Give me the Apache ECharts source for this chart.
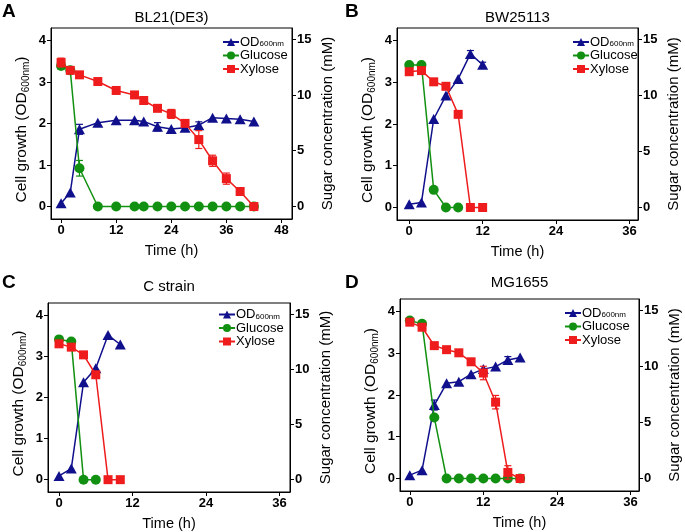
<!DOCTYPE html>
<html><head><meta charset="utf-8">
<script src="https://cdn.jsdelivr.net/npm/echarts@6/dist/echarts.min.js"></script>
<style>html,body{margin:0;padding:0;background:#fff}#c{width:685px;height:532px}</style>
</head><body><div id="c"></div>
<script>
// ---- Data ----
const timeA = [0,2,4,8,12,16,18,21,24,27,30,33,36,39,42];
const odA   = [0.08,0.34,1.86,2.02,2.08,2.08,2.05,1.92,1.87,1.90,1.96,2.14,2.12,2.10,2.05];
const gluA  = [12.6,12.2,3.43,0,0,0,0,0,0,0,0,0,0,0,0];
const xylA  = [12.9,12.2,11.8,11.2,10.4,10.0,9.5,8.8,8.3,7.45,6.0,4.1,2.5,1.35,0];
const odErrA  = [0,0,0.12,0,0,0,0,0.1,0,0,0.08,0,0,0,0];
const gluErrA = [0.3,0,0.7,0,0,0,0,0,0,0,0,0,0,0,0];
const xylErrA = [0.4,0,0,0,0,0,0,0,0.4,0,0.8,0.5,0.5,0,0];

const timeB = [0,2,4,6,8,10,12];
const odB   = [0.08,0.12,2.12,2.68,3.08,3.68,3.42];
const gluB  = [12.7,12.7,1.57,0,0];
const xylB  = [12.1,12.2,11.2,10.8,8.3,0,0];
const odErrB  = [0,0,0,0,0,0.08,0.06];
const gluErrB = [0,0,0,0,0];
const xylErrB = [0,0,0,0,0,0,0];

const timeC = [0,2,4,6,8,10];
const odC   = [0.09,0.27,2.37,2.71,3.52,3.29];
const gluC  = [12.7,12.5,0,0];
const xylC  = [12.3,12.0,11.3,9.5,0,0];
const odErrC  = [0,0,0,0,0,0];
const gluErrC = [0,0,0,0];
const xylErrC = [0,0,0,0,0,0];

const timeD = [0,2,4,6,8,10,12,14,16,18];
const odD   = [0.08,0.2,1.76,2.28,2.32,2.5,2.62,2.68,2.84,2.9];
const gluD  = [14.08,13.78,5.43,0,0,0,0,0,0,0];
const xylD  = [13.93,13.48,11.84,11.48,11.2,10.4,9.4,6.8,0.54,0];
const odErrD  = [0,0,0.12,0,0,0,0,0,0.08,0];
const gluErrD = [0,0,0,0,0,0,0,0,0,0];
const xylErrD = [0,0,0,0,0,0,0.6,0.6,0.6,0];

const xTicks = [0,12,24,36,48];
const xTicksShort = [0,12,24,36];
const yLeftTicks = [0,1,2,3,4];
const yRightTicks = [0,5,10,15];

const panelLetters = ['A','B','C','D'];
const panelTitles = ['BL21(DE3)','BW25113','C strain','MG1655'];

// ---- Layout ----
const FONT = 'Liberation Sans, Arial, sans-serif';
const BLUE = '#10108c', GREEN = '#119011', RED = '#ee1c1c';
const layout = [
  {left:51, top:28, w:241, h:191, xmin:-2.2, xmax:50.3, ticks:xTicks, lg:[222,35.5], letter:[2,2], tt:10},
  {left:397, top:28, w:241, h:192, xmin:-2.0, xmax:37.4, ticks:xTicksShort, lg:[572,35.5], letter:[345,2], tt:10},
  {left:48, top:303, w:242, h:191, xmin:-1.8, xmax:37.7, ticks:xTicksShort, lg:[218,308], letter:[2,273], tt:279},
  {left:400, top:299, w:239, h:192, xmin:-1.6, xmax:37.4, ticks:xTicksShort, lg:[564,306.5], letter:[345,273], tt:275}
];
const panelData = [
  {t:timeA, od:odA, glu:gluA, xyl:xylA, e:[odErrA,gluErrA,xylErrA]},
  {t:timeB, od:odB, glu:gluB, xyl:xylB, e:[odErrB,gluErrB,xylErrB]},
  {t:timeC, od:odC, glu:gluC, xyl:xylC, e:[odErrC,gluErrC,xylErrC]},
  {t:timeD, od:odD, glu:gluD, xyl:xylD, e:[odErrD,gluErrD,xylErrD]}
];
const RATIO = 3.72;
const yMin = -0.3, yMax = 4.3;

function errRender(color){
  return function(params, api){
    const x=api.value(0), y=api.value(1), e=api.value(2);
    const hi=api.coord([x,y+e]), lo=api.coord([x,y-e]);
    const w=3.5, st={stroke:color, lineWidth:1.2};
    return {type:'group', children:[
      {type:'line', shape:{x1:hi[0],y1:hi[1],x2:lo[0],y2:lo[1]}, style:st},
      {type:'line', shape:{x1:hi[0]-w,y1:hi[1],x2:hi[0]+w,y2:hi[1]}, style:st},
      {type:'line', shape:{x1:lo[0]-w,y1:lo[1],x2:lo[0]+w,y2:lo[1]}, style:st}
    ]};
  };
}

const grid=[], xAxis=[], yAxis=[], series=[], legend=[], title=[];
const tickLabel = {color:'#000', fontFamily:FONT, fontSize:13, fontWeight:'bold', margin:5};
const nameStyle = {color:'#000', fontFamily:FONT, fontSize:15.5, padding:[0,0,0,-12],
  rich:{n:{fontSize:15.5, lineHeight:18, fontFamily:FONT, color:'#000'},
        s:{fontSize:10, lineHeight:6, fontFamily:FONT, color:'#000', verticalAlign:'bottom'}}};

layout.forEach((L,i)=>{
  const D = panelData[i];
  grid.push({left:L.left, top:L.top, width:L.w, height:L.h, show:true, borderColor:'#000', borderWidth:1, backgroundColor:'transparent'});
  xAxis.push({type:'value', gridIndex:i, min:L.xmin, max:L.xmax, name:'Time (h)', nameLocation:'middle', nameGap:24,
    nameTextStyle:{color:'#000', fontFamily:FONT, fontSize:14.5},
    axisLine:{show:true, onZero:false, lineStyle:{color:'#000', width:1}},
    axisTick:{show:true, length:4, customValues:L.ticks, lineStyle:{color:'#000'}},
    axisLabel:Object.assign({customValues:L.ticks}, tickLabel),
    splitLine:{show:false}});
  yAxis.push({type:'value', gridIndex:i, position:'left', min:yMin, max:yMax,
    name:'{n|Cell growth (OD}{s|600nm}{n|)}', nameLocation:'middle', nameGap:20, nameTextStyle:nameStyle,
    axisLine:{show:true, onZero:false, lineStyle:{color:'#000'}},
    axisTick:{show:true, length:4, customValues:yLeftTicks, lineStyle:{color:'#000'}},
    axisLabel:Object.assign({customValues:yLeftTicks}, tickLabel),
    splitLine:{show:false}});
  yAxis.push({type:'value', gridIndex:i, position:'right', min:yMin*RATIO, max:yMax*RATIO,
    name:'Sugar concentration (mM)', nameLocation:'middle', nameGap:28,
    nameTextStyle:{color:'#000', fontFamily:FONT, fontSize:15},
    axisLine:{show:true, onZero:false, lineStyle:{color:'#000'}},
    axisTick:{show:true, length:4, customValues:yRightTicks, lineStyle:{color:'#000'}},
    axisLabel:Object.assign({customValues:yRightTicks}, tickLabel),
    splitLine:{show:false}});
  const yl = 2*i, yr = 2*i+1;
  const pairs = (vals)=>vals.map((v,k)=>[D.t[k], v]);
  const ePairs = (vals, errs)=>vals.map((v,k)=>[D.t[k], v, errs[k]]).filter(d=>d[2]>0);
  series.push({type:'custom', xAxisIndex:i, yAxisIndex:yl, renderItem:errRender(BLUE), data:ePairs(D.od, D.e[0]), z:1, silent:true});
  series.push({type:'line', name:'OD', xAxisIndex:i, yAxisIndex:yl, data:pairs(D.od), symbol:'triangle', symbolSize:[11,10],
    lineStyle:{color:BLUE, width:1.5}, itemStyle:{color:BLUE}, z:2, animation:false});
  series.push({type:'custom', xAxisIndex:i, yAxisIndex:yr, renderItem:errRender(GREEN), data:ePairs(D.glu, D.e[1]), z:3, silent:true});
  series.push({type:'line', name:'Glucose', xAxisIndex:i, yAxisIndex:yr, data:pairs(D.glu), symbol:'circle', symbolSize:10,
    lineStyle:{color:GREEN, width:1.5}, itemStyle:{color:GREEN}, z:4, animation:false});
  series.push({type:'custom', xAxisIndex:i, yAxisIndex:yr, renderItem:errRender(RED), data:ePairs(D.xyl, D.e[2]), z:5, silent:true});
  series.push({type:'line', name:'Xylose', xAxisIndex:i, yAxisIndex:yr, data:pairs(D.xyl), symbol:'rect', symbolSize:9,
    lineStyle:{color:RED, width:1.5}, itemStyle:{color:RED}, z:6, animation:false});
  legend.push({orient:'vertical', left:L.lg[0], top:L.lg[1], itemWidth:16, itemHeight:10, itemGap:0.5, padding:0,
    data:['OD','Glucose','Xylose'], selectedMode:false,
    formatter:(n)=> n==='OD' ? '{n|OD}{s|600nm}' : '{n|'+n+'}',
    textStyle:{color:'#000', fontFamily:FONT, fontSize:13, lineHeight:12, padding:[0,0,0,-4],
      rich:{n:{fontSize:13, lineHeight:12, fontFamily:FONT, color:'#000'},
            s:{fontSize:8, lineHeight:1, fontFamily:FONT, color:'#000', verticalAlign:'bottom'}}}});
  title.push({text:panelTitles[i], left:L.left + L.w/2, top:L.tt, textAlign:'center', padding:0,
    textStyle:{color:'#000', fontFamily:FONT, fontSize:15, fontWeight:'normal'}});
  title.push({text:panelLetters[i], left:L.letter[0], top:L.letter[1], padding:0,
    textStyle:{color:'#000', fontFamily:FONT, fontSize:19, fontWeight:'bold'}});
});

const chart = echarts.init(document.getElementById('c'), null, {renderer:'canvas'});
chart.setOption({animation:false, backgroundColor:'#fff', title, grid, xAxis, yAxis, series, legend});
</script>
</body></html>
